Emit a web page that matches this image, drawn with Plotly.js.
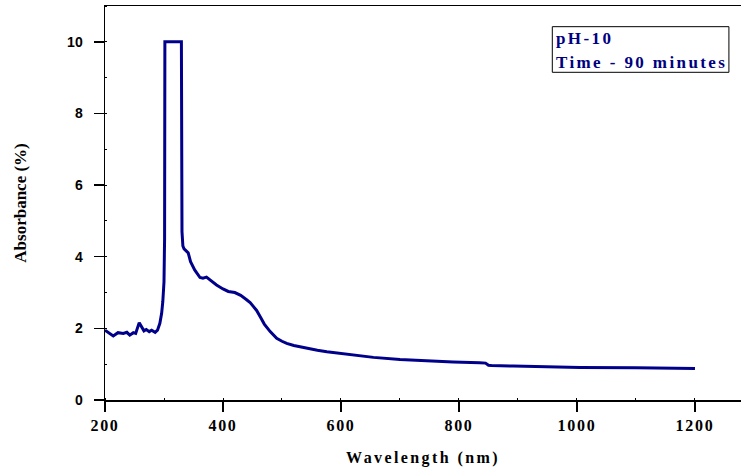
<!DOCTYPE html>
<html>
<head>
<meta charset="utf-8">
<script src="https://cdn.plot.ly/plotly-3.0.1.min.js"></script>
<style>
  html, body { margin: 0; padding: 0; background: #fff; }
  #chart { width: 741px; height: 470px; }
  .xtick text { letter-spacing: 1.7px; }
  .g-xtitle text { letter-spacing: 2.4px; }
  .annotation-text { letter-spacing: 2.4px; }
</style>
</head>
<body>
<div id="chart"></div>
<script>
// Wavelength (nm)
const wavelength = [
  200, 205, 214, 222, 231, 237, 242, 248, 252, 258, 262, 266, 270, 275, 279, 285, 289,
  293, 296, 298, 300, 301, 301.5, 310, 320, 329.5, 330.5, 332, 334, 338, 341, 345, 352,
  361, 366, 372, 380, 389, 400, 409, 420, 430, 440, 446, 451, 457, 465, 470, 480, 491,
  500, 508, 520, 542, 560, 576, 600, 615, 655, 700, 745, 790, 835, 845, 850, 855, 892,
  950, 1005, 1100, 1200
];
// Absorbance (%)
const absorbance = [
  1.95, 1.90, 1.79, 1.88, 1.86, 1.89, 1.81, 1.88, 1.86, 2.16, 2.05, 1.93, 1.97, 1.91, 1.95, 1.89, 1.95,
  2.14, 2.42, 2.75, 3.30, 4.50, 10.0, 10.0, 10.0, 10.0, 4.70, 4.30, 4.22, 4.15, 4.11, 3.86, 3.63,
  3.42, 3.40, 3.43, 3.32, 3.21, 3.10, 3.03, 3.00, 2.92, 2.80, 2.72, 2.62, 2.50, 2.27, 2.12, 1.91, 1.72,
  1.64, 1.58, 1.52, 1.44, 1.39, 1.35, 1.30, 1.26, 1.19, 1.13, 1.09, 1.06, 1.04, 1.03, 0.97, 0.96, 0.95,
  0.93, 0.91, 0.90, 0.88
];
const xTickVals = [200, 400, 600, 800, 1000, 1200];
const yTickVals = [0, 2, 4, 6, 8, 10];
const legendLines = ["pH-10", "Time - 90 minutes"];

const navy = "#000080";
const serif = "Liberation Serif, Times New Roman, serif";
const sans = "Liberation Sans, Arial, sans-serif";

const trace = {
  x: wavelength,
  y: absorbance,
  type: "scatter",
  mode: "lines",
  line: { color: "#00008B", width: 3 },
  hoverinfo: "skip",
  showlegend: false
};

const layout = {
  width: 741,
  height: 470,
  margin: { l: 105, r: 0, t: 6, b: 70, pad: 0 },
  paper_bgcolor: "#fff",
  plot_bgcolor: "#fff",
  xaxis: {
    range: [200, 1278],
    tickmode: "array",
    tickvals: xTickVals,
    ticktext: xTickVals.map(String),
    ticks: "outside",
    ticklen: 10,
    tickwidth: 1.5,
    tickcolor: "#000",
    showline: true,
    linecolor: "#000",
    linewidth: 1.5,
    mirror: true,
    showgrid: false,
    zeroline: false,
    ticklabelstandoff: 0,
    tickfont: { family: serif, size: 16, color: "#000", weight: "bold" },
    minor: { dtick: 100, tick0: 200, ticks: "inside", ticklen: 2, tickwidth: 1, tickcolor: "#000", showgrid: false },
    title: { text: "Wavelength (nm)", font: { family: serif, size: 16, color: "#000", weight: "bold" }, standoff: 19 },
    automargin: false
  },
  yaxis: {
    range: [0, 11],
    tickmode: "array",
    tickvals: yTickVals,
    ticktext: yTickVals.map(String),
    ticks: "outside",
    ticklen: 10,
    tickwidth: 1.5,
    tickcolor: "#000",
    showline: true,
    linecolor: "#000",
    linewidth: 1.5,
    mirror: false,
    showgrid: false,
    zeroline: false,
    ticklabelstandoff: 8,
    tickfont: { family: sans, size: 14, color: "#000", weight: "bold" },
    minor: { dtick: 1, tick0: 0, ticks: "inside", ticklen: 2, tickwidth: 1, tickcolor: "#000", showgrid: false },
    title: { text: "Absorbance (%)", font: { family: serif, size: 17, color: "#000", weight: "bold" }, standoff: 36 },
    automargin: false
  },
  shapes: [
    { type: "rect", xref: "paper", yref: "paper", x0: 0.7033, x1: 0.981, y0: 0.8317, y1: 0.9475,
      line: { color: "#000", width: 1 }, fillcolor: "rgba(0,0,0,0)", layer: "above" }
  ],
  annotations: [
    { text: legendLines[0], xref: "paper", yref: "paper", x: 0.7055, y: 0.9175,
      xanchor: "left", yanchor: "middle", showarrow: false, align: "left",
      font: { family: serif, size: 17, color: navy, weight: "bold" } },
    { text: legendLines[1], xref: "paper", yref: "paper", x: 0.7055, y: 0.8566,
      xanchor: "left", yanchor: "middle", showarrow: false, align: "left",
      font: { family: serif, size: 17, color: navy, weight: "bold" } }
  ]
};

Plotly.newPlot("chart", [trace], layout, { displayModeBar: false, staticPlot: true });
</script>
</body>
</html>
